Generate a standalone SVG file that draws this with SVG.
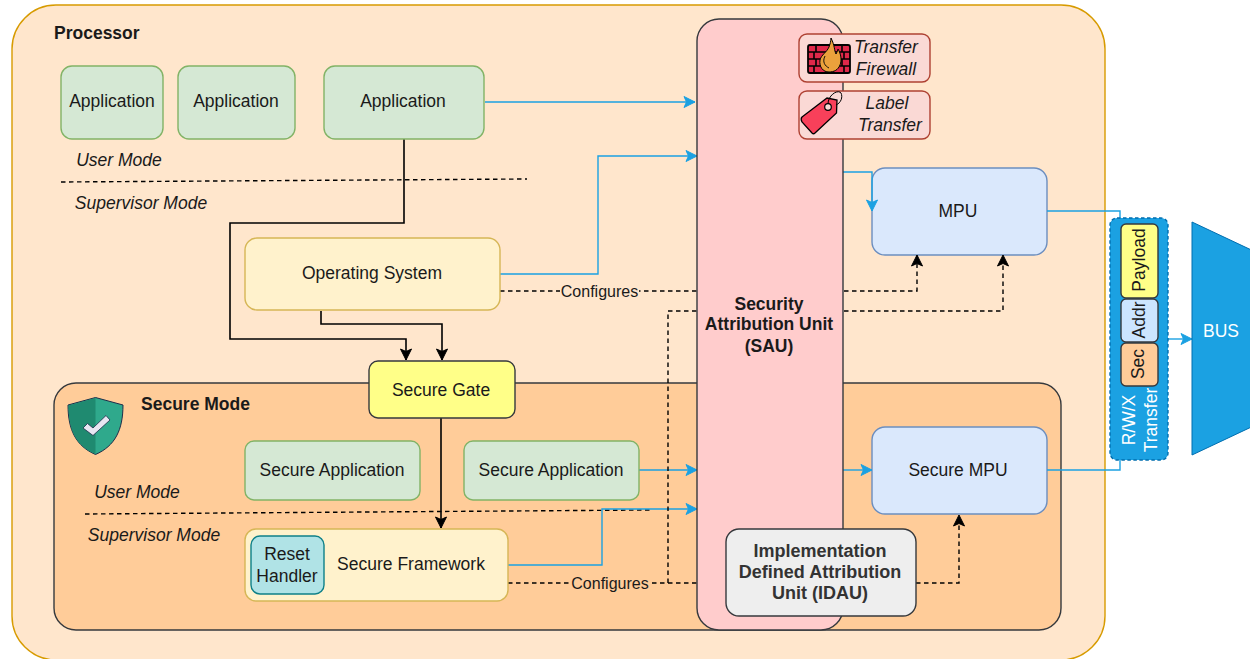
<svg xmlns="http://www.w3.org/2000/svg" width="1250" height="659" viewBox="0 0 1250 659">
<style>
text{font-family:"Liberation Sans",Arial,sans-serif;font-size:17.5px;fill:#1a1a1a;text-anchor:middle}
.b{font-weight:bold}
.i{font-style:italic}
.st{text-anchor:start}
.c{font-size:16px}
.idau{font-size:18px;font-weight:bold;fill:#333}
.wt{fill:#fff}
.g{fill:#d5e8d4;stroke:#82b366;stroke-width:1.4}
.y{fill:#fff2cc;stroke:#d6b656;stroke-width:1.4}
.m{fill:#dae8fc;stroke:#6c8ebf;stroke-width:1.4}
.k{fill:#ffff88;stroke:#36393d;stroke-width:1.4}
.o{fill:#ffcc99;stroke:#36393d;stroke-width:1.4}
.bl{fill:#cce5ff;stroke:#36393d;stroke-width:1.4}
.r{fill:#fad9d5;stroke:#ae4132;stroke-width:1.4}
.blue{fill:none;stroke:#1ba1e2;stroke-width:1.4}
.black{fill:none;stroke:#000;stroke-width:1.6}
.dash{fill:none;stroke:#000;stroke-width:1.4;stroke-dasharray:4.5 3.5}
</style>
<defs>
<marker id="ab" markerUnits="userSpaceOnUse" markerWidth="14" markerHeight="14" refX="12" refY="7" orient="auto"><path d="M1 1.5L12 7L1 12.5L3.500 7Z" fill="#1ba1e2" stroke="#1ba1e2"/></marker>
<marker id="ak" markerUnits="userSpaceOnUse" markerWidth="14" markerHeight="14" refX="12" refY="7" orient="auto"><path d="M1 1.5L12 7L1 12.5L3.500 7Z" fill="#000" stroke="#000"/></marker>
</defs>
<g id="processor"><rect x="12" y="5" width="1093" height="655" rx="44" fill="#ffe6cc" stroke="#d79b00" stroke-width="1.4"/><text class="b st" x="54" y="39">Processor</text></g>
<g id="secure-mode"><rect x="54" y="383" width="1007" height="247" rx="22" fill="#ffcc99" stroke="#36393d" stroke-width="1.4"/><text class="b st" x="141" y="410">Secure Mode</text>
<path d="M95.500 397.500L123 405C123 430 115 446 95.500 454.500C76 446 68 430 68 405Z" fill="#2fa98c" stroke="#1e2d4a" stroke-width="1"/><path d="M95.500 398L68.500 405.400C68.500 430 76 446 95.500 454Z" fill="#1f8a70"/><path d="M83 428L87.500 423.500L93 428L106 415.500L110 420L93 435.500Z" fill="#e8e6f2" stroke="#1e2d4a" stroke-width="0.800"/></g>
<g id="mpu"><rect class="m" x="872" y="168" width="175" height="87" rx="13"/><text x="958" y="217">MPU</text></g>
<g id="secure-mpu"><rect class="m" x="872" y="427" width="175" height="87" rx="13"/><text x="958" y="476">Secure MPU</text></g>
<g id="connectors">
<path class="dash" d="M61 182L527 179"/>
<path class="dash" d="M85 514L650 510"/>
<path class="blue" marker-end="url(#ab)" d="M485 102L695 102"/>
<path class="blue" marker-end="url(#ab)" d="M500 274L598 274L598 156L697 156"/>
<path class="blue" marker-end="url(#ab)" d="M639 470L697 470"/>
<path class="blue" marker-end="url(#ab)" d="M508 565L602 565L602 509L697 509"/>
<path class="blue" marker-end="url(#ab)" d="M843 172L872 172L872 211"/>
<path class="blue" marker-end="url(#ab)" d="M843 470L872 470"/>
<path class="blue" d="M1047 211L1120 211L1120 218"/>
<path class="blue" d="M1047 470L1120 470L1120 460"/>
<path class="blue" marker-end="url(#ab)" d="M1168 339L1192 339"/>
<path class="black" marker-end="url(#ak)" d="M404 139L404 223L230 223L230 339L406 339L406 360"/>
<path class="black" marker-end="url(#ak)" d="M321 311L321 324L442 324L442 360"/>
<path class="black" marker-end="url(#ak)" d="M441 418L441 528"/>
<path class="dash" marker-end="url(#ak)" d="M500 291L917 291L917 255"/>
<path class="dash" marker-end="url(#ak)" d="M508 583L959 583L959 515"/>
<path class="dash" marker-end="url(#ak)" d="M668 583L668 311L1003 311L1003 255"/>
<rect x="560" y="283" width="79" height="17" fill="#ffe6cc"/><text class="c" x="599.500" y="297">Configures</text>
<rect x="571" y="575" width="78" height="17" fill="#ffcc99"/><text class="c" x="610" y="589">Configures</text>
</g>
<g id="sau"><rect x="697" y="19" width="146" height="611" rx="22" fill="#ffcccc" stroke="#36393d" stroke-width="1.4"/><text class="b" x="769" y="310">Security</text><text class="b" x="769" y="330">Attribution Unit</text><text class="b" x="769" y="352">(SAU)</text></g>
<g id="app1"><rect class="g" x="61" y="66" width="102" height="73" rx="11"/><text x="112" y="107">Application</text></g>
<g id="app2"><rect class="g" x="178" y="66" width="117" height="73" rx="11"/><text x="236" y="107">Application</text></g>
<g id="app3"><rect class="g" x="324" y="66" width="160" height="73" rx="11"/><text x="403" y="107">Application</text></g>
<g id="mode-labels"><text class="i" x="119" y="166">User Mode</text><text class="i" x="141" y="209">Supervisor Mode</text><text class="i" x="137" y="498">User Mode</text><text class="i" x="154" y="541">Supervisor Mode</text></g>
<g id="os"><rect class="y" x="245" y="238" width="255" height="72" rx="12"/><text x="372" y="279">Operating System</text></g>
<g id="secure-gate"><rect class="k" x="369" y="361" width="146" height="57" rx="9"/><text x="441" y="396">Secure Gate</text></g>
<g id="sapp1"><rect class="g" x="245" y="441" width="175" height="59" rx="9"/><text x="332" y="476">Secure Application</text></g>
<g id="sapp2"><rect class="g" x="464" y="441" width="175" height="59" rx="9"/><text x="551" y="476">Secure Application</text></g>
<g id="framework"><rect class="y" x="245" y="529" width="263" height="72" rx="11"/><text x="411" y="570">Secure Framework</text></g>
<g id="reset"><rect x="251" y="536" width="73" height="58" rx="9" fill="#b0e3e6" stroke="#0e8088" stroke-width="1.4"/><text x="287" y="560">Reset</text><text x="287" y="582">Handler</text></g>
<g id="idau"><rect x="726" y="529" width="190" height="87" rx="13" fill="#eeeeee" stroke="#36393d" stroke-width="1.4"/><text class="idau" x="820" y="557">Implementation</text><text class="idau" x="820" y="578">Defined Attribution</text><text class="idau" x="820" y="599">Unit (IDAU)</text></g>
<g id="firewall"><rect class="r" x="799" y="34" width="131" height="48" rx="8"/>
<rect x="808" y="45" width="42" height="28" rx="2" fill="#e0284a" stroke="#000" stroke-width="1.800"/><path d="M808 52H850M808 59H850M808 66H850M816 45V52M842 45V52M829 52V59M814 52V59M844 52V59M816 59V66M842 59V66M829 66V73M814 66V73M844 66V73" stroke="#000" stroke-width="1.600" fill="none"/>
<path d="M831 38C835 46 834 50 836 54C837 52 838 50 838 49C841 54 842 60 840 65C838 70 834 72 829 72C823 72 819 67 820 60C821 55 827 52 829 47C830 44 831 41 831 38Z" fill="#eba13c" stroke="#000" stroke-width="1"/><path d="M825 56C822 62 825 66 829 68" fill="none" stroke="#000" stroke-width="0.900"/>
<text class="i" x="886" y="53">Transfer</text><text class="i" x="886" y="75">Firewall</text></g>
<g id="label-transfer"><rect class="r" x="799" y="91" width="131" height="48" rx="8"/>
<path d="M802 117L827 98L837 100L836.500 113L815 133C814 134 813 134 812 133L802 122C801 120 801 118 802 117Z" fill="#f8405a" stroke="#000" stroke-width="1.300"/><circle cx="828" cy="107" r="3.300" fill="#fad9d5" stroke="#000" stroke-width="1.200"/><path d="M828 104C828 95 838 89 841 93C843 97 841 103 836 105" fill="none" stroke="#000" stroke-width="1"/>
<text class="i" x="887" y="109">Label</text><text class="i" x="890" y="131">Transfer</text></g>
<g id="transfer"><rect x="1110" y="218" width="58" height="242" rx="7" fill="#1ba1e2" stroke="#006eaf" stroke-width="1.400" stroke-dasharray="3.500 2.500"/>
<text class="wt" transform="translate(1135 420) rotate(-90)">R/W/X</text><text class="wt" transform="translate(1157 420) rotate(-90)">Transfer</text></g>
<g id="payload"><rect class="k" x="1121" y="224" width="37" height="74" rx="5"/><text transform="translate(1145 260) rotate(-90)">Payload</text></g>
<g id="addr"><rect class="bl" x="1121" y="299" width="37" height="43" rx="5"/><text transform="translate(1145 320) rotate(-90)">Addr</text></g>
<g id="sec"><rect class="o" x="1121" y="343" width="37" height="43" rx="5"/><text transform="translate(1144 364) rotate(-90)">Sec</text></g>
<g id="bus"><path d="M1192 222L1262 255V422L1192 455Z" fill="#1ba1e2" stroke="#006eaf" stroke-width="1"/><text class="wt" x="1221" y="337">BUS</text></g>
</svg>
